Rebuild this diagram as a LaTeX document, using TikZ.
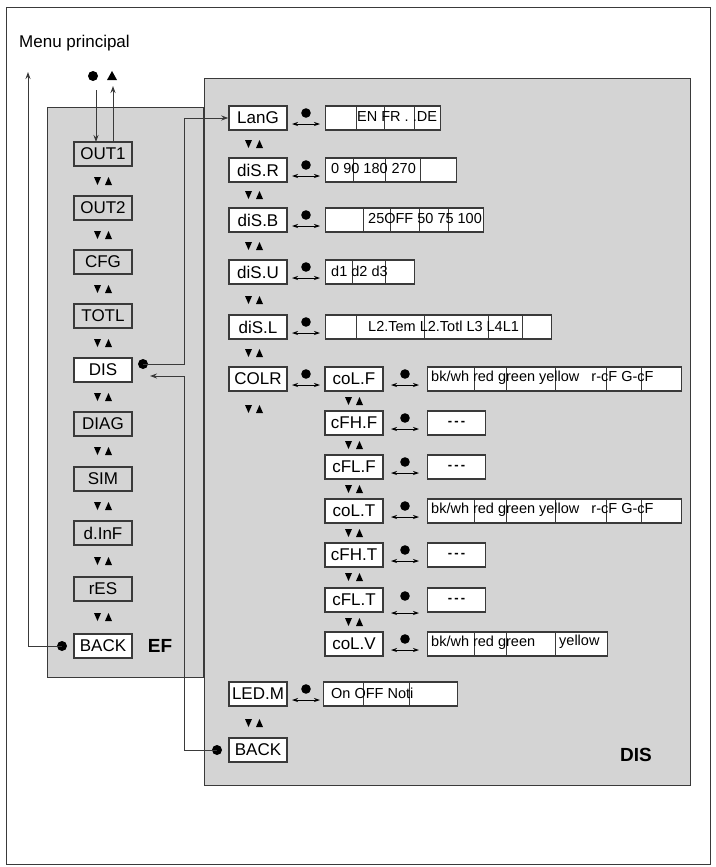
\documentclass[tikz,border=0pt]{standalone}
\usepackage{fontspec}
\setmainfont{Liberation Sans}
\usetikzlibrary{arrows.meta}
\definecolor{pan}{HTML}{D4D4D4}
\definecolor{ln}{HTML}{3A3A3A}
\begin{document}
\begin{tikzpicture}[x=1pt,y=-1pt,
  box/.style={draw=ln,line width=1.5pt,minimum width=58pt,minimum height=24pt,inner sep=0pt,fill=white,font=\fontsize{17}{17}\selectfont},
  gbox/.style={box,fill=pan},
  val/.style={draw=ln,line width=1.3pt,minimum height=24pt,inner sep=0pt,fill=white,anchor=west},
  vt/.style={anchor=west,inner sep=0pt,font=\fontsize{14.5}{15}\selectfont},
  con/.style={draw=ln,line width=1pt},
  tip/.style={-{Stealth[length=7pt,width=5pt]}},
  ud/.pic={\fill (-9,-4)--(-2,-4)--(-5.5,4)--cycle; \fill (2,4)--(9,4)--(5.5,-4)--cycle;},
  sel/.pic={\fill (0,-5) circle (4.8); \draw[line width=0.8pt,{Stealth[length=6pt,width=4pt]}-{Stealth[length=6pt,width=4pt]}] (-14,6)--(14,6);}
]
\useasboundingbox (0,0) rectangle (715,867);
\draw[line width=1pt,ln] (6,8) rectangle (710,864);
\node[anchor=west,inner sep=0pt,font=\fontsize{17}{17}\selectfont] (mp) at (19,43) {Menu principal};
% panels
\draw[draw=ln,fill=pan,line width=1pt] (47,107) rectangle (203,677);
\draw[draw=ln,fill=pan,line width=1pt] (204,78) rectangle (690,785);
\node[font=\bfseries\fontsize{19}{19}\selectfont] (ef) at (160,646) {EF};
\node[font=\bfseries\fontsize{19}{19}\selectfont] (dis) at (636,755) {DIS};
% left column
\node[gbox] (o1) at (103,154) {OUT1};
\node[gbox] (o2) at (103,208) {OUT2};
\node[gbox] (cfg) at (103,262) {CFG};
\node[gbox] (tot) at (103,316) {TOTL};
\node[box] (ds) at (103,370) {DIS};
\node[gbox] (dg) at (103,424) {DIAG};
\node[gbox] (sim) at (103,479) {SIM};
\node[gbox] (dinf) at (103,533) {d.InF};
\node[gbox] (res) at (103,589) {rES};
\node[box] (bk) at (103,646) {BACK};
\foreach \y in {181,235,289,343,397,451,506,561,617} \pic at (103,\y) {ud};
% DIS column
\node[box] (lang) at (258,118) {LanG};
\node[box] (dr) at (258,170) {diS.R};
\node[box] (db) at (258,220) {diS.B};
\node[box] (du) at (258,272) {diS.U};
\node[box] (dl) at (258,327) {diS.L};
\node[box] (colr) at (258,379) {COLR};
\node[box] (led) at (258,694) {LED.M};
\node[box] (bk2) at (258,750) {BACK};
\foreach \y in {144,195,246,300,353,409,723} \pic at (254,\y) {ud};
\foreach \y in {118,170,220,272,327,379,694} \pic at (306,\y) {sel};
% top
\fill (93,76) circle (5);
\fill (107,80)--(117,80)--(112,71)--cycle;
\coordinate (lt) at (28,72);
\draw[con,tip] (96,90) -- (96,142);
\draw[con,tip] (113,142) -- (113,86);
\fill (62,646) circle (5);
\draw[con,tip] (62,646) -| (lt);
% DIS links
\fill (143,364) circle (5);
\draw[con,tip] (143,364) -- (184,364) |- (lang.west);
\fill (217,750) circle (5);
\coordinate (ret) at (150,376);
\draw[con,tip] (217,750) -- (184,750) |- (ret);
% values
\node[val,minimum width=115pt] (v1) at (325,118) {};
\draw[ln,line width=0.8pt] (356,106)--(356,130) (384,106)--(384,130) (414,106)--(414,130);
\node[vt] at (357,117) {EN FR . .DE};
\node[val,minimum width=131pt] (v2) at (325,170) {};
\draw[ln,line width=0.8pt] (353,158)--(353,182) (385,158)--(385,182) (420,158)--(420,182);
\node[vt] at (331,169) {0 90 180 270};
\node[val,minimum width=158pt] (v3) at (325,220) {};
\draw[ln,line width=0.8pt] (363,208)--(363,232) (390,208)--(390,232) (419,208)--(419,232) (448,208)--(448,232);
\node[vt] at (368,219) {25OFF 50 75 100};
\node[val,minimum width=89pt] (v4) at (325,272) {};
\draw[ln,line width=0.8pt] (352,260)--(352,284) (385,260)--(385,284);
\node[vt] at (331,271) {d1 d2 d3};
\node[val,minimum width=226pt] (v5) at (325,327) {};
\draw[ln,line width=0.8pt] (356,315)--(356,339) (424,315)--(424,339) (488,315)--(488,339) (522,315)--(522,339);
\node[vt] at (368,326) {L2.Tem L2.Totl L3 L4L1};
\node[val,minimum width=134pt] (v6) at (323,694) {};
\draw[ln,line width=0.8pt] (363,682)--(363,706) (409,682)--(409,706);
\node[vt] at (331,693) {On OFF Noti};
% sub column
\node[box] (clf) at (354,379) {coL.F};
\node[box] (chf) at (354,423) {cFH.F};
\node[box] (clff) at (354,467) {cFL.F};
\node[box] (clt) at (354,511) {coL.T};
\node[box] (cht) at (354,555) {cFH.T};
\node[box] (cltt) at (354,600) {cFL.T};
\node[box] (clv) at (354,644) {coL.V};
\foreach \y in {401,445,489,533,577,622} \pic at (354,\y) {ud};
\foreach \y in {379,423,467,511,555,644} \pic at (405,\y) {sel};
\fill (405,596) circle (4.8);
\draw[line width=0.8pt,{Stealth[length=6pt,width=4pt]}-{Stealth[length=6pt,width=4pt]}] (391,613)--(419,613);
\foreach \n/\y in {a/379,b/511} {
  \node[val,minimum width=254pt] (w\n) at (427,\y) {};
  \draw[ln,line width=0.8pt] (474,\y-12)--(474,\y+12) (506,\y-12)--(506,\y+12) (555,\y-12)--(555,\y+12) (606,\y-12)--(606,\y+12) (641,\y-12)--(641,\y+12);
  \node[vt] at (431,\y-1) {bk/wh red green yellow\hspace{12pt}r-cF G-cF};
}
\foreach \n/\y in {c/423,d/467,e/555,f/600} {
  \node[val,minimum width=58pt,font=\fontsize{13}{13}\selectfont\bfseries] (w\n) at (427,\y) {-\,-\,-};
}
\node[val,minimum width=180pt] (wg) at (427,644) {};
\draw[ln,line width=0.8pt] (474,632)--(474,656) (506,632)--(506,656) (555,632)--(555,656);
\node[vt] at (431,643) {bk/wh red green};
\node[vt] at (559,642) {yellow};
\end{tikzpicture}
\end{document}
